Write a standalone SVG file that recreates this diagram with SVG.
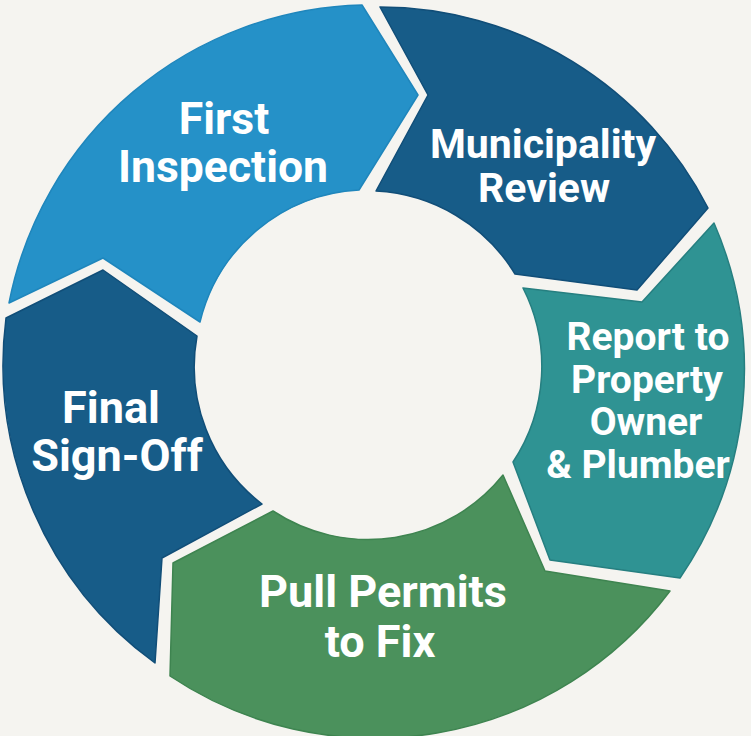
<svg xmlns="http://www.w3.org/2000/svg" width="751" height="736" viewBox="0 0 751 736">
<style>
.seg{stroke-width:1.5;stroke-linejoin:round}
.lbl{font-family:Roboto,"Liberation Sans",sans-serif;font-weight:700;fill:#ffffff;text-anchor:middle}
</style>
<rect x="0" y="0" width="751" height="736" fill="#F5F4F0"/>
<g id="first-inspection">
<path class="seg" fill="#2591C8" stroke="#1F86BC" d="M 9 303 A 369 369 0 0 1 362 5 L 418 95 L 359 190 A 173 173 0 0 0 200 322 L 103 258 Z"/>
<text class="lbl" font-size="44.5"><tspan x="224" y="134">First</tspan><tspan x="223" y="182">Inspection</tspan></text>
</g>
<g id="municipality-review">
<path class="seg" fill="#175C88" stroke="#114E78" d="M 380 7 A 369 369 0 0 1 708 208 L 637 290 L 515 274 A 173 173 0 0 0 376 191 L 428 95 Z"/>
<text class="lbl" font-size="41"><tspan x="543" y="158">Municipality</tspan><tspan x="544" y="202">Review</tspan></text>
</g>
<g id="report">
<path class="seg" fill="#2F9393" stroke="#267F80" d="M 523 288 L 642 302 L 714 223 A 369 369 0 0 1 680 578 L 550 560 L 513 462 A 173 173 0 0 0 523 288 Z"/>
<text class="lbl" font-size="39"><tspan x="648" y="350">Report to</tspan><tspan x="647" y="393">Property</tspan><tspan x="646" y="435">Owner</tspan><tspan x="638" y="478">&amp; Plumber</tspan></text>
</g>
<g id="pull-permits">
<path class="seg" fill="#4B915C" stroke="#3E8450" d="M 503 475 L 545 571 L 670 591 A 369 369 0 0 1 170 676 L 173 563 L 273 511 A 173 173 0 0 0 503 475 Z"/>
<text class="lbl" font-size="45"><tspan x="383" y="607">Pull Permits</tspan><tspan x="380" y="657">to Fix</tspan></text>
</g>
<g id="final-sign-off">
<path class="seg" fill="#175C88" stroke="#114E78" d="M 6 318 L 103 270 L 197 336 A 173 173 0 0 0 262 504 L 162 558 L 155 663 A 369 369 0 0 1 6 318 Z"/>
<text class="lbl" font-size="45"><tspan x="111" y="423">Final</tspan><tspan x="117" y="471">Sign-Off</tspan></text>
</g>
<g id="connectors"/>
</svg>
